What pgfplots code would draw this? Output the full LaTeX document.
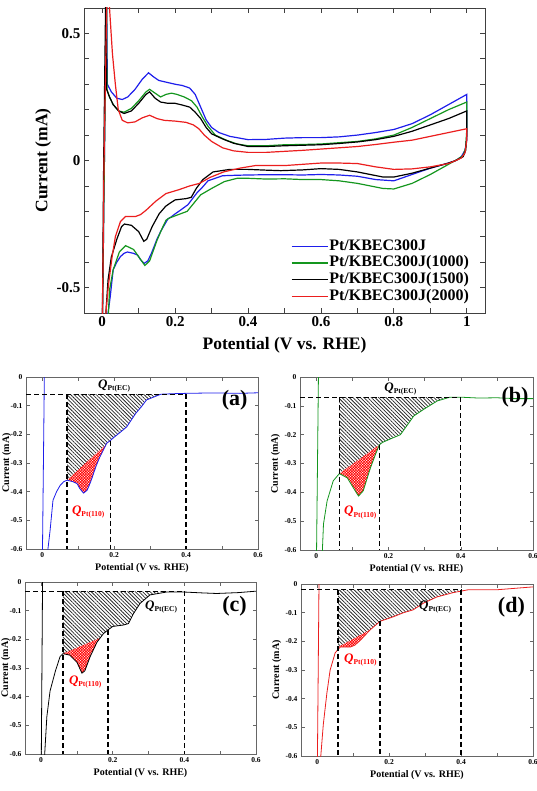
\documentclass[border=0pt]{standalone}
\usepackage{fontspec}
\setmainfont{Liberation Serif}
\usepackage{pgfplots}
\usepackage{pgfplotstable}
\pgfplotsset{compat=1.18}
\usetikzlibrary{patterns,patterns.meta}

\definecolor{cvblue}{RGB}{30,30,235}
\definecolor{cvgreen}{RGB}{20,150,30}
\definecolor{cvred}{RGB}{235,30,30}

\newcommand{\QQ}[1]{{\fontsize{13}{13}\selectfont\bfseries\itshape Q}\raisebox{-0.45ex}{\fontsize{7.5}{7.5}\selectfont\bfseries Pt(#1)}}

\pgfplotstableread{
V I
0.000 -0.70
0.006 0.00
0.012 0.70
0.014 0.30
0.025 0.27
0.040 0.245
0.055 0.24
0.070 0.25
0.090 0.28
0.110 0.32
0.127 0.345
0.140 0.33
0.155 0.315
0.170 0.31
0.200 0.30
0.220 0.295
0.240 0.285
0.255 0.26
0.270 0.21
0.285 0.16
0.300 0.13
0.320 0.11
0.350 0.095
0.400 0.082
0.450 0.083
0.500 0.088
0.550 0.09
0.600 0.09
0.650 0.093
0.700 0.10
0.750 0.11
0.800 0.122
0.850 0.145
0.900 0.18
0.950 0.22
1.000 0.26
1.000 0.15
1.000 0.08
0.995 0.04
0.985 0.015
0.970 0.00
0.950 -0.01
0.900 -0.03
0.850 -0.055
0.800 -0.08
0.750 -0.075
0.700 -0.062
0.650 -0.057
0.600 -0.055
0.550 -0.057
0.500 -0.056
0.450 -0.056
0.400 -0.057
0.370 -0.058
0.330 -0.06
0.310 -0.07
0.290 -0.08
0.275 -0.105
0.260 -0.127
0.245 -0.155
0.235 -0.174
0.215 -0.195
0.200 -0.21
0.189 -0.222
0.180 -0.23
0.170 -0.255
0.160 -0.28
0.150 -0.31
0.143 -0.336
0.135 -0.365
0.125 -0.395
0.115 -0.405
0.105 -0.39
0.097 -0.372
0.085 -0.365
0.069 -0.36
0.060 -0.365
0.050 -0.378
0.040 -0.40
0.030 -0.43
0.022 -0.535
0.016 -0.60
0.012 -0.70
}\blueCV

\pgfplotstableread{
V I
0.000 -0.70
0.006 0.00
0.012 0.70
0.013 0.28
0.020 0.25
0.030 0.22
0.045 0.195
0.060 0.19
0.080 0.205
0.100 0.235
0.120 0.27
0.130 0.28
0.145 0.265
0.160 0.25
0.175 0.26
0.190 0.265
0.205 0.26
0.225 0.25
0.245 0.235
0.260 0.21
0.275 0.17
0.290 0.135
0.310 0.10
0.340 0.08
0.370 0.065
0.400 0.058
0.450 0.058
0.500 0.062
0.550 0.063
0.600 0.065
0.650 0.07
0.700 0.075
0.750 0.085
0.800 0.10
0.850 0.13
0.900 0.165
0.950 0.20
1.000 0.23
1.000 0.12
0.997 0.05
0.990 0.02
0.975 0.005
0.950 -0.015
0.900 -0.055
0.850 -0.09
0.800 -0.112
0.770 -0.11
0.700 -0.09
0.650 -0.08
0.600 -0.075
0.550 -0.075
0.500 -0.072
0.450 -0.073
0.400 -0.07
0.370 -0.07
0.335 -0.083
0.300 -0.11
0.270 -0.135
0.253 -0.165
0.233 -0.20
0.205 -0.215
0.183 -0.227
0.175 -0.235
0.165 -0.265
0.150 -0.315
0.130 -0.395
0.117 -0.413
0.103 -0.385
0.086 -0.35
0.064 -0.335
0.047 -0.36
0.030 -0.43
0.020 -0.51
0.017 -0.60
0.014 -0.70
}\greenCV

\pgfplotstableread{
V I
0.000 -0.70
0.004 0.00
0.010 0.70
0.012 0.28
0.020 0.25
0.030 0.22
0.045 0.195
0.060 0.185
0.080 0.195
0.100 0.225
0.120 0.26
0.130 0.27
0.145 0.245
0.160 0.23
0.180 0.225
0.200 0.225
0.220 0.218
0.240 0.21
0.255 0.19
0.270 0.165
0.285 0.13
0.300 0.105
0.330 0.085
0.360 0.068
0.400 0.055
0.450 0.055
0.500 0.058
0.550 0.06
0.600 0.062
0.650 0.067
0.700 0.073
0.750 0.082
0.800 0.095
0.850 0.115
0.900 0.14
0.950 0.165
1.000 0.195
1.000 0.10
0.997 0.04
0.990 0.015
0.970 0.00
0.950 -0.01
0.900 -0.03
0.850 -0.05
0.800 -0.065
0.770 -0.065
0.700 -0.045
0.650 -0.035
0.600 -0.032
0.550 -0.037
0.490 -0.04
0.450 -0.038
0.400 -0.035
0.350 -0.035
0.304 -0.045
0.276 -0.075
0.258 -0.11
0.244 -0.145
0.230 -0.15
0.200 -0.155
0.187 -0.167
0.174 -0.18
0.165 -0.195
0.156 -0.21
0.137 -0.26
0.122 -0.31
0.114 -0.318
0.100 -0.28
0.080 -0.255
0.061 -0.25
0.053 -0.26
0.040 -0.31
0.025 -0.38
0.016 -0.47
0.010 -0.60
0.008 -0.70
}\blackCV

\pgfplotstableread{
V I
0.000 -0.70
0.005 0.00
0.014 0.75
0.020 0.60
0.028 0.42
0.036 0.30
0.044 0.20
0.055 0.158
0.070 0.148
0.090 0.152
0.110 0.168
0.130 0.178
0.150 0.165
0.170 0.158
0.200 0.155
0.230 0.15
0.250 0.14
0.265 0.125
0.280 0.10
0.300 0.075
0.330 0.05
0.360 0.038
0.400 0.032
0.450 0.032
0.500 0.036
0.550 0.04
0.600 0.045
0.650 0.05
0.700 0.055
0.750 0.063
0.800 0.072
0.850 0.08
0.900 0.095
0.950 0.11
1.000 0.125
1.000 0.08
0.995 0.03
0.985 0.01
0.970 0.00
0.950 -0.012
0.900 -0.025
0.850 -0.033
0.800 -0.035
0.750 -0.025
0.700 -0.012
0.650 -0.01
0.600 -0.01
0.550 -0.015
0.500 -0.02
0.420 -0.02
0.378 -0.03
0.333 -0.045
0.295 -0.067
0.267 -0.09
0.240 -0.10
0.210 -0.115
0.175 -0.13
0.147 -0.16
0.120 -0.196
0.105 -0.213
0.092 -0.22
0.064 -0.22
0.050 -0.24
0.036 -0.30
0.027 -0.38
0.017 -0.49
0.010 -0.60
0.008 -0.70
}\redCV

\pgfplotsset{
  smallax/.style={
    scale only axis,
    xmin=-0.045, xmax=0.6, ymin=-0.6, ymax=0,
    xtick={0,0.2,0.4,0.6}, xticklabels={0,0.2,0.4,0.6},
    minor xtick={0.1,0.3,0.5},
    ytick={0,-0.1,-0.2,-0.3,-0.4,-0.5,-0.6},
    yticklabels={0,-0.1,-0.2,-0.3,-0.4,-0.5,-0.6},
    tick align=inside, major tick length=3.5pt, minor tick length=3.5pt,
    axis line style={black!60, line width=0.6pt},
    every tick/.style={black!60, line width=0.5pt},
    every tick label/.append style={font=\fontsize{7.5}{7.5}\selectfont\bfseries},
    xlabel={Potential (V vs. RHE)},
    ylabel={Current (mA)},
    label style={font=\fontsize{10}{10}\selectfont\bfseries},
    xlabel style={at={(axis description cs:0.5,0)}, anchor=center, yshift=-19pt},
  },
  leftcol/.style={ylabel style={at={(axis description cs:-0.083,0.5)}, anchor=center}},
  rightcol/.style={ylabel style={at={(axis description cs:-0.105,0.5)}, anchor=center}},
  dashln/.style={black, line width=1.3pt, dash pattern=on 5pt off 3pt},
  hatchblk/.style={draw=none, pattern={Lines[angle=-45,distance=2.6pt,line width=0.75pt]}, pattern color=black!85},
  hatchred/.style={draw=none, pattern={Hatch[angle=45,distance=1.9pt,line width=0.7pt]}, pattern color=red},
}

\begin{document}
\begin{tikzpicture}
\useasboundingbox (0pt,0pt) rectangle (537pt,-791pt);

% ---------------- main CV ----------------
\begin{axis}[
  at={(84pt,-313pt)}, anchor=south west,
  scale only axis, width=401pt, height=305pt,
  xmin=-0.05, xmax=1.05, ymin=-0.6, ymax=0.6,
  xtick={0,0.2,0.4,0.6,0.8,1}, xticklabels={0,0.2,0.4,0.6,0.8,1},
  minor xtick={0.1,0.3,0.5,0.7,0.9},
  ytick={-0.5,0,0.5}, yticklabels={-0.5,0,0.5},
  minor ytick={-0.4,-0.3,-0.2,-0.1,0.1,0.2,0.3,0.4},
  tick align=inside, major tick length=5pt, minor tick length=5pt,
  axis line style={black!75, line width=0.9pt},
  every tick/.style={black!75, line width=0.8pt},
  every tick label/.append style={font=\fontsize{15}{15}\selectfont\bfseries},
  xlabel={Potential (V vs. RHE)}, ylabel={Current (mA)},
  label style={font=\fontsize{17.5}{17.5}\selectfont\bfseries},
  xlabel style={at={(axis description cs:0.5,0)}, anchor=center, yshift=-32pt},
  ylabel style={at={(axis description cs:-0.102,0.5)}, anchor=center},
  legend cell align=left,
  legend image code/.code={\draw[#1] (0pt,0pt) -- (32pt,0pt); \path (0pt,0pt) -- (36pt,0pt);},
  legend style={draw=none, fill=none, at={(axis description cs:0.509,0.254)}, anchor=north west,
    font=\fontsize{16}{16}\selectfont\bfseries, row sep=0pt,
    nodes={inner sep=0.8pt, text height=11.5pt, text depth=3.7pt}},
]
\addplot[cvblue, line width=1.2pt] table[x=V,y=I]{\blueCV};
\addlegendentry{Pt/KBEC300J}
\addplot[cvgreen, line width=1.2pt] table[x=V,y=I]{\greenCV};
\addlegendentry{Pt/KBEC300J(1000)}
\addplot[black, line width=1.2pt] table[x=V,y=I]{\blackCV};
\addlegendentry{Pt/KBEC300J(1500)}
\addplot[cvred, line width=1.2pt] table[x=V,y=I]{\redCV};
\addlegendentry{Pt/KBEC300J(2000)}
\end{axis}

% ---------------- (a) ----------------
\begin{axis}[smallax, leftcol, at={(26pt,-549pt)}, anchor=south west, width=232pt, height=172pt]
\addplot[hatchblk] coordinates {(0.069,-0.06) (0.069,-0.36) (0.189,-0.222) (0.2,-0.21) (0.215,-0.195) (0.235,-0.174) (0.245,-0.155) (0.26,-0.127) (0.275,-0.105) (0.29,-0.08) (0.31,-0.07) (0.33,-0.06) (0.069,-0.06)};
\addplot[hatchred] coordinates {(0.069,-0.36) (0.085,-0.365) (0.097,-0.372) (0.105,-0.39) (0.115,-0.405) (0.125,-0.395) (0.135,-0.365) (0.143,-0.336) (0.15,-0.31) (0.16,-0.28) (0.17,-0.255) (0.18,-0.23) (0.189,-0.222) (0.069,-0.36)};
\addplot[cvblue, line width=0.8pt] table[x=V,y=I]{\blueCV};
\addplot[dashln] coordinates {(-0.045,-0.06) (0.4,-0.06)};
\addplot[dashln] coordinates {(0.069,-0.06) (0.069,-0.6)};
\addplot[dashln] coordinates {(0.189,-0.222) (0.189,-0.6)};
\addplot[dashln] coordinates {(0.4,-0.06) (0.4,-0.6)};
\node at (axis cs:0.2,-0.03) {\QQ{EC}};
\node[text=red] at (axis cs:0.128,-0.47) {\QQ{110}};
\node[font=\fontsize{22}{22}\selectfont\bfseries] at (axis cs:0.535,-0.08) {(a)};
\end{axis}

% ---------------- (b) ----------------
\begin{axis}[smallax, rightcol, at={(300pt,-550pt)}, anchor=south west, width=233pt, height=173pt]
\addplot[hatchblk] coordinates {(0.064,-0.07) (0.064,-0.335) (0.175,-0.235) (0.183,-0.227) (0.205,-0.215) (0.233,-0.2) (0.253,-0.165) (0.27,-0.135) (0.3,-0.11) (0.335,-0.083) (0.37,-0.07) (0.064,-0.07)};
\addplot[hatchred] coordinates {(0.064,-0.335) (0.086,-0.35) (0.103,-0.385) (0.117,-0.413) (0.13,-0.395) (0.15,-0.315) (0.165,-0.265) (0.175,-0.235) (0.064,-0.335)};
\addplot[cvgreen, line width=0.8pt] table[x=V,y=I]{\greenCV};
\addplot[dashln] coordinates {(-0.045,-0.07) (0.4,-0.07)};
\addplot[dashln] coordinates {(0.064,-0.07) (0.064,-0.6)};
\addplot[dashln] coordinates {(0.175,-0.235) (0.175,-0.6)};
\addplot[dashln] coordinates {(0.4,-0.07) (0.4,-0.6)};
\node at (axis cs:0.233,-0.04) {\QQ{EC}};
\node[text=red] at (axis cs:0.122,-0.47) {\QQ{110}};
\node[font=\fontsize{22}{22}\selectfont\bfseries] at (axis cs:0.55,-0.07) {(b)};
\end{axis}

% ---------------- (c) ----------------
\begin{axis}[smallax, leftcol, at={(25pt,-754pt)}, anchor=south west, width=231pt, height=172pt]
\addplot[hatchblk] coordinates {(0.061,-0.032) (0.061,-0.25) (0.165,-0.195) (0.174,-0.18) (0.2,-0.155) (0.23,-0.15) (0.244,-0.145) (0.258,-0.11) (0.276,-0.075) (0.304,-0.045) (0.33,-0.036) (0.35,-0.033) (0.061,-0.032)};
\addplot[hatchred] coordinates {(0.061,-0.25) (0.08,-0.255) (0.1,-0.28) (0.114,-0.318) (0.122,-0.31) (0.137,-0.26) (0.156,-0.21) (0.165,-0.195) (0.061,-0.25)};
\addplot[black, line width=0.8pt] table[x=V,y=I]{\blackCV};
\addplot[dashln] coordinates {(-0.045,-0.032) (0.4,-0.032)};
\addplot[dashln] coordinates {(0.061,-0.032) (0.061,-0.6)};
\addplot[dashln] coordinates {(0.187,-0.167) (0.187,-0.6)};
\addplot[dashln] coordinates {(0.4,-0.032) (0.4,-0.6)};
\node at (axis cs:0.335,-0.087) {\QQ{EC}};
\node[text=red] at (axis cs:0.123,-0.35) {\QQ{110}};
\node[font=\fontsize{22}{22}\selectfont\bfseries] at (axis cs:0.54,-0.085) {(c)};
\end{axis}

% ---------------- (d) ----------------
\begin{axis}[smallax, rightcol, at={(301pt,-756pt)}, anchor=south west, width=232pt, height=172pt]
\addplot[hatchblk] coordinates {(0.058,-0.02) (0.058,-0.22) (0.147,-0.16) (0.175,-0.13) (0.21,-0.115) (0.24,-0.1) (0.267,-0.09) (0.295,-0.067) (0.333,-0.045) (0.378,-0.03) (0.4,-0.022) (0.058,-0.02)};
\addplot[hatchred] coordinates {(0.058,-0.22) (0.064,-0.22) (0.092,-0.22) (0.105,-0.213) (0.12,-0.196) (0.147,-0.16) (0.058,-0.22)};
\addplot[cvred, line width=0.8pt] table[x=V,y=I]{\redCV};
\addplot[dashln] coordinates {(-0.045,-0.02) (0.4,-0.02)};
\addplot[dashln] coordinates {(0.058,-0.02) (0.058,-0.6)};
\addplot[dashln] coordinates {(0.175,-0.13) (0.175,-0.6)};
\addplot[dashln] coordinates {(0.4,-0.02) (0.4,-0.6)};
\node at (axis cs:0.328,-0.08) {\QQ{EC}};
\node[text=red] at (axis cs:0.12,-0.266) {\QQ{110}};
\node[font=\fontsize{22}{22}\selectfont\bfseries] at (axis cs:0.54,-0.08) {(d)};
\end{axis}
\end{tikzpicture}
\end{document}
